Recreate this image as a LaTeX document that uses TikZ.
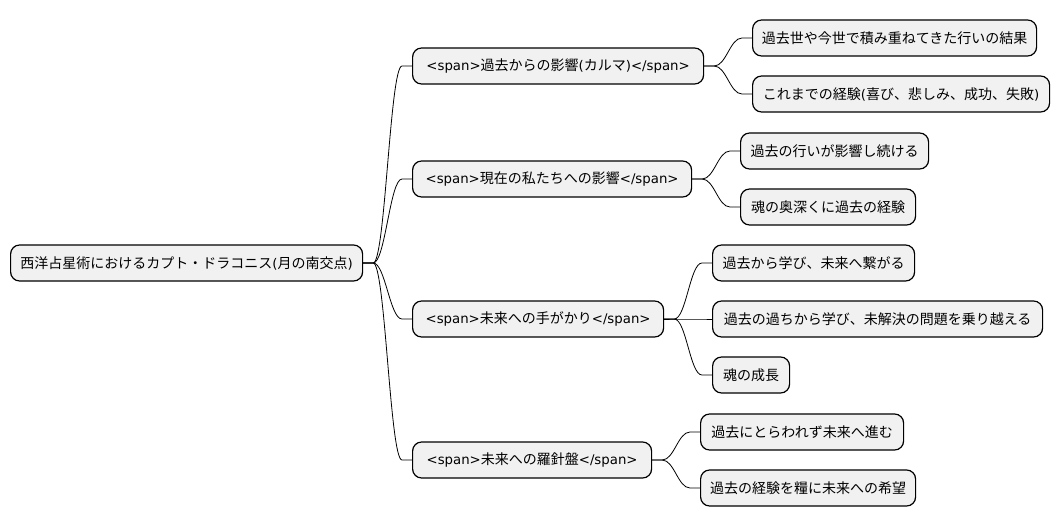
\documentclass[tikz,border=0pt]{standalone}
\usepackage{fontspec}
\setmainfont{Noto Sans CJK JP}
\newfontfamily\lat[Scale=0.95]{DejaVu Sans}
\begin{document}
\begin{tikzpicture}[x=1pt,y=-1pt,
  box/.style={draw=black, fill=black!5.5, line width=1.2pt, rounded corners=9pt,
    anchor=west, minimum height=36pt, inner xsep=0pt, inner ysep=0pt,
    font=\fontsize{14pt}{16pt}\selectfont},
  link/.style={draw=black, line width=0.8pt}]
\useasboundingbox (0,0) rectangle (1060,527);
\fill[white] (0,0) rectangle (1060,527);
% root
\node[box, minimum width=352pt] (r) at (10,263) {西洋占星術におけるカプト・ドラコニス{\lat(}月の南交点{\lat)}};
% level 1
\node[box, minimum width=291pt] (a) at (412,66) {{\lat<span>}過去からの影響{\lat(}カルマ{\lat)</span>}};
\node[box, minimum width=279pt] (b) at (412,179) {{\lat<span>}現在の私たちへの影響{\lat</span>}};
\node[box, minimum width=251pt] (c) at (412,319) {{\lat<span>}未来への手がかり{\lat</span>}};
\node[box, minimum width=239pt] (d) at (412,460) {{\lat<span>}未来への羅針盤{\lat</span>}};
% level 2
\node[box, minimum width=284pt] (a1) at (752,38) {過去世や今世で積み重ねてきた行いの結果};
\node[box, minimum width=297pt] (a2) at (752,94) {これまでの経験{\lat(}喜び、悲しみ、成功、失敗{\lat)}};
\node[box, minimum width=188pt] (b1) at (740,151) {過去の行いが影響し続ける};
\node[box, minimum width=175pt] (b2) at (740,207) {魂の奥深くに過去の経験};
\node[box, minimum width=202pt] (c1) at (712,263) {過去から学び、未来へ繋がる};
\node[box, minimum width=330pt] (c2) at (712,319) {過去の過ちから学び、未解決の問題を乗り越える};
\node[box, minimum width=77pt] (c3) at (712,375) {魂の成長};
\node[box, minimum width=203pt] (d1) at (700,432) {過去にとらわれず未来へ進む};
\node[box, minimum width=215pt] (d2) at (700,488) {過去の経験を糧に未来への希望};
% connectors
\foreach \p/\c in {r/a,r/b,r/c,r/d,a/a1,a/a2,b/b1,b/b2,c/c1,c/c2,c/c3,d/d1,d/d2}{
  \draw[link] (\p.east) -- ++(10,0) coordinate (s)
    .. controls ([xshift=12pt]s) and ([xshift=-22pt]\c.west) .. ([xshift=-10pt]\c.west) -- (\c.west);
}
\end{tikzpicture}
\end{document}
